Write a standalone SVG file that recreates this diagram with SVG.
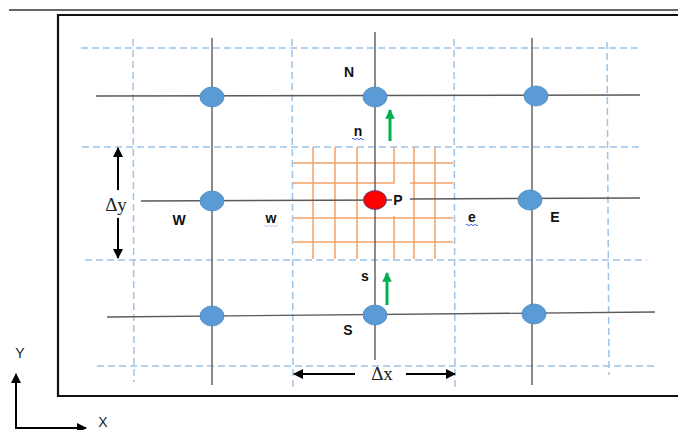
<svg xmlns="http://www.w3.org/2000/svg" width="678" height="430" viewBox="0 0 678 430">
<style>
.dash{stroke:#9DC3E6;stroke-width:1.5;stroke-dasharray:7 4;fill:none}
.grid{stroke:#5a5a5a;stroke-width:1.4;fill:none}
.or{stroke:#F5A066;stroke-width:1.5;fill:none}
.node{fill:#5B9BD5;stroke:#4A86C0;stroke-width:0.8}
.lbl{font-family:"Liberation Sans",Arial,sans-serif;font-weight:bold;font-size:14px;fill:#111;text-anchor:middle}
.ser{font-family:"Liberation Serif","Times New Roman",serif;font-size:19px;fill:#222;text-anchor:middle}
.ax{font-family:"Liberation Sans",Arial,sans-serif;font-size:14px;fill:#222;text-anchor:middle}
.blk{stroke:#000;stroke-width:2;fill:none}
.grn{stroke:#00B050;stroke-width:3;fill:none}
.wavy{stroke:#3355dd;stroke-width:0.9;fill:none}
</style>
<defs>
<marker id="ah" viewBox="0 0 10 10" refX="9" refY="5" markerWidth="5" markerHeight="5" orient="auto"><path d="M0,0 L10,5 L0,10 z" fill="#000"/></marker>
<marker id="ag" viewBox="0 0 10 10" refX="9" refY="5" markerWidth="3.2" markerHeight="3.2" orient="auto"><path d="M0,0 L10,5 L0,10 z" fill="#00B050"/></marker>
</defs>
<rect width="678" height="430" fill="#fff"/>
<line x1="9" y1="10" x2="678" y2="10" stroke="#333" stroke-width="1.6"/>
<path d="M680,15 H58 V396 H680" stroke="#111" stroke-width="2.2" fill="none"/>
<g id="dashed">
<line class="dash" x1="81" y1="48" x2="640" y2="48"/>
<line class="dash" x1="82" y1="147" x2="640" y2="147"/>
<line class="dash" x1="85" y1="260" x2="647" y2="260"/>
<line class="dash" x1="97" y1="366" x2="656" y2="366"/>
<line class="dash" x1="133" y1="39" x2="134" y2="382"/>
<line class="dash" x1="292" y1="39" x2="293" y2="389"/>
<line class="dash" x1="454" y1="39" x2="455" y2="389"/>
<line class="dash" x1="607" y1="42" x2="609" y2="375"/>
</g>
<g id="fine-grid">
<line class="or" x1="293" y1="163" x2="453" y2="163"/>
<path class="or" d="M293,183 H394 V147 M410,183 H453"/>
<line class="or" x1="293" y1="218" x2="453" y2="218"/>
<line class="or" x1="293" y1="242" x2="453" y2="242"/>
<line class="or" x1="313" y1="147" x2="313" y2="259"/>
<line class="or" x1="335" y1="147" x2="335" y2="259"/>
<line class="or" x1="357" y1="147" x2="357" y2="259"/>
<line class="or" x1="394" y1="216" x2="394" y2="259"/>
<line class="or" x1="414" y1="147" x2="414" y2="259"/>
<line class="or" x1="435" y1="147" x2="435" y2="259"/>
</g>
<g id="connectors">
<line class="grid" x1="96" y1="96" x2="640" y2="95"/>
<line class="grid" x1="141" y1="201" x2="392" y2="200"/>
<line class="grid" x1="410" y1="199" x2="640" y2="198"/>
<line class="grid" x1="107" y1="317" x2="655" y2="312"/>
<line class="grid" x1="212" y1="38" x2="212" y2="385"/>
<line class="grid" x1="375" y1="32" x2="375" y2="360"/>
<line class="grid" x1="532" y1="38" x2="532" y2="385"/>
<line class="grn" x1="390" y1="141" x2="390" y2="110" marker-end="url(#ag)"/>
<line class="grn" x1="387" y1="305" x2="387" y2="273" marker-end="url(#ag)"/>
<line class="blk" x1="118" y1="190" x2="118" y2="148" marker-end="url(#ah)"/>
<line class="blk" x1="118" y1="218" x2="118" y2="258" marker-end="url(#ah)"/>
<line class="blk" x1="355" y1="374" x2="294" y2="374" marker-end="url(#ah)"/>
<line class="blk" x1="406" y1="374" x2="455" y2="374" marker-end="url(#ah)"/>
<line class="blk" x1="16" y1="428" x2="16" y2="374" marker-end="url(#ah)"/>
<line class="blk" x1="15" y1="428" x2="86" y2="428" marker-end="url(#ah)"/>
</g>
<g id="NW"><ellipse class="node" cx="212" cy="97" rx="12" ry="10"/></g>
<g id="N"><ellipse class="node" cx="375" cy="97" rx="12" ry="10"/><text class="lbl" x="349" y="77">N</text></g>
<g id="NE"><ellipse class="node" cx="536" cy="96" rx="12" ry="10"/></g>
<g id="W"><ellipse class="node" cx="212" cy="201" rx="12" ry="10"/><text class="lbl" x="179" y="225">W</text></g>
<g id="P"><ellipse cx="375" cy="200" rx="11.5" ry="9.5" fill="#FF0000" stroke="#3A4A8A" stroke-width="0.8"/><text class="lbl" x="398" y="205">P</text></g>
<g id="E"><ellipse class="node" cx="530" cy="200" rx="12" ry="10"/><text class="lbl" x="555" y="222">E</text></g>
<g id="SW"><ellipse class="node" cx="212" cy="316" rx="12" ry="10"/></g>
<g id="S"><ellipse class="node" cx="375" cy="315" rx="12" ry="10"/><text class="lbl" x="348" y="335">S</text></g>
<g id="SE"><ellipse class="node" cx="534" cy="314" rx="12" ry="10"/></g>
<g id="faces">
<text class="lbl" x="358" y="136">n</text>
<path class="wavy" d="M352,139 q1,-1.5 2,0 t2,0 t2,0 t2,0 t2,0 t2,0"/>
<text class="lbl" x="271" y="223">w</text>
<path class="wavy" d="M264,226 q1,-1.5 2,0 t2,0 t2,0 t2,0 t2,0 t2,0 t2,0" opacity="0.35"/>
<text class="lbl" x="472" y="222">e</text>
<path class="wavy" d="M466,225 q1,-1.5 2,0 t2,0 t2,0 t2,0 t2,0 t2,0"/>
<text class="lbl" x="365" y="281">s</text>
</g>
<g id="labels">
<text class="ser" x="116" y="211">Δy</text>
<text class="ser" x="382" y="380">Δx</text>
<text class="ax" x="20" y="358">Y</text>
<text class="ax" x="103" y="427">X</text>
</g>
</svg>
